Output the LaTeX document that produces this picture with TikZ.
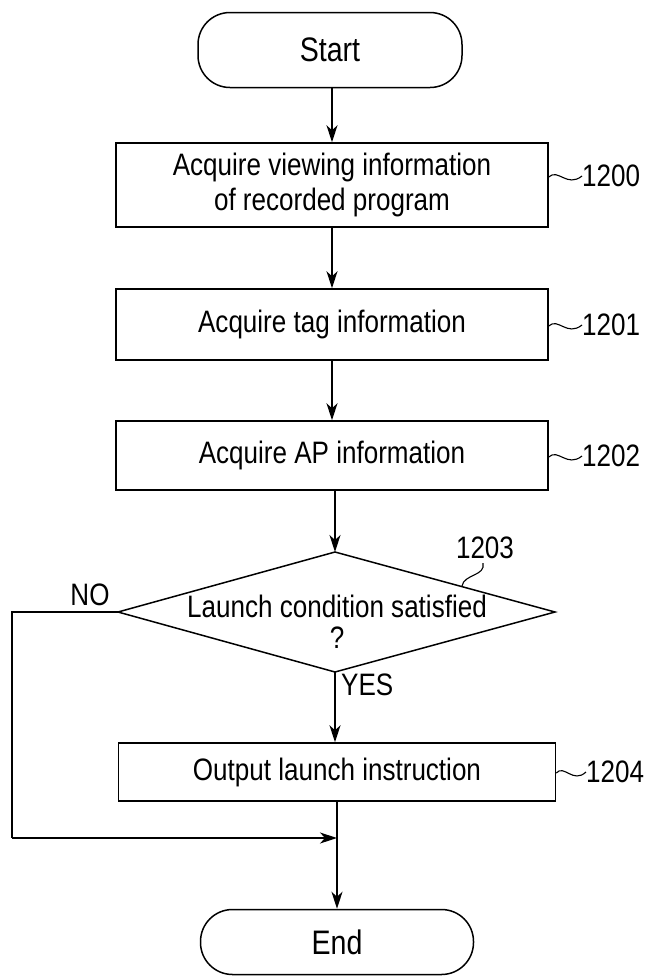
\documentclass[tikz,border=0pt]{standalone}
\usepackage{fontspec}
\setmainfont{Liberation Sans}[FakeStretch=0.84]
\usetikzlibrary{arrows.meta}
\begin{document}
\begin{tikzpicture}[x=1pt, y=-1pt,
  txt/.style={font=\fontsize{31}{35}\selectfont, inner sep=0pt, align=center},
  terminal/.style={draw, line width=1.5pt, rounded corners=32pt, inner sep=0pt,
    font=\fontsize{34}{38}\selectfont},
  stepbox/.style={draw, line width=1.5pt, inner sep=0pt, minimum width=432pt,
    align=center, font=\fontsize{31}{35}\selectfont},
  refnum/.style={font=\fontsize{31}{35}\selectfont, inner sep=0pt, anchor=west},
  leader/.style={line width=1.1pt},
  flow/.style={line width=1.3pt, -{Stealth[length=17pt, width=11pt, inset=5pt]}},
  plain/.style={line width=1.3pt}]
\useasboundingbox (0,0) rectangle (645,978);

% terminals
\node[terminal, minimum width=264pt, minimum height=75pt] (start) at (330,50) {Start};
\node[terminal, minimum width=273pt, minimum height=65pt] (end) at (337,942) {End};

% processing steps
\node[stepbox, minimum height=84pt] (s1200) at (332,185)
  {Acquire viewing information\\of recorded program};
\node[stepbox, minimum height=71pt] (s1201) at (332,324.5) {Acquire tag information};
\node[stepbox, minimum height=69pt] (s1202) at (332,455.5) {Acquire AP information};
\node[stepbox, minimum width=437pt, minimum height=58pt] (s1204) at (337,772)
  {Output launch instruction};

% decision
\coordinate (dtop) at (335,552);
\coordinate (dleft) at (118,612);
\coordinate (dright) at (555,612);
\coordinate (dbot) at (335,672);
\draw[line width=1.5pt] (dtop) -- (dright) -- (dbot) -- (dleft) -- cycle;
\node[txt, font=\fontsize{31}{31}\selectfont] (cond) at (337,622)
  {Launch condition satisfied\\?};

% main flow
\draw[flow] (start.south -| s1200.north) -- (s1200.north);
\draw[flow] (s1200) -- (s1201);
\draw[flow] (s1201) -- (s1202);
\draw[flow] (s1202.south -| dtop) -- (dtop);
\draw[flow] (dbot) -- (dbot |- s1204.north);
\coordinate (join) at (337,838);
\draw[plain] (s1204.south) -- (join);
\draw[flow] (join) -- (end.north);

% NO branch
\coordinate (nocorner) at (12,612);
\coordinate (nolow) at (12,838);
\draw[plain] (dleft) -- (nocorner) -- (nolow);
\draw[flow] (nolow) -- (join);

\node[txt, anchor=south] (no) at (90,606) {NO};
\node[txt, anchor=north west] (yes) at (341,674) {YES};

% reference numerals with leaders
\node[refnum] (n1200) at (582,176) {1200};
\draw[leader] (s1200.east |- 0,177) .. controls (558,168) and (567,188) .. (n1200.west);
\node[refnum] (n1201) at (582,325) {1201};
\draw[leader] (s1201.east |- 0,326) .. controls (558,317) and (567,337) .. (n1201.west);
\node[refnum] (n1202) at (582,456) {1202};
\draw[leader] (s1202.east |- 0,457) .. controls (558,448) and (567,468) .. (n1202.west);
\node[refnum] (n1204) at (586,772) {1204};
\draw[leader] (s1204.east |- 0,773) .. controls (564,764) and (573,784) .. (n1204.west);

\node[refnum, anchor=south] (n1203) at (485,559) {1203};
\coordinate (d1203) at (462,586);
\draw[leader] (n1203.south) ++(-2,4) .. controls (486,576) and (464,574) .. (d1203);
\end{tikzpicture}
\end{document}
